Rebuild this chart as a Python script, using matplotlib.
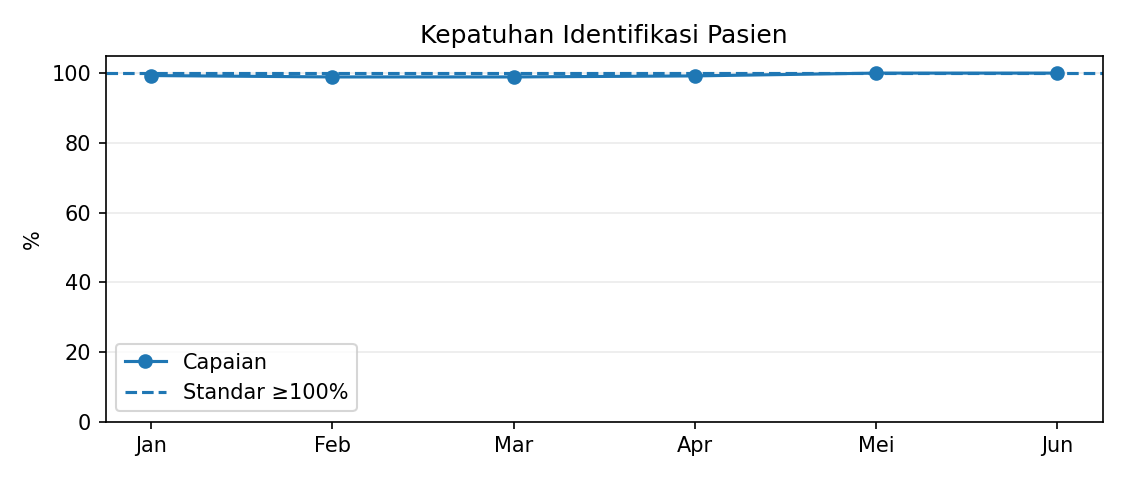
import matplotlib
matplotlib.use("Agg")
import matplotlib.pyplot as plt

months = ["Jan", "Feb", "Mar", "Apr", "Mei", "Jun"]
capaian = [99.3, 98.9, 98.9, 99.2, 100.0, 100.0]
standar = 100

fig, ax = plt.subplots(figsize=(7.5, 3.2), dpi=150)
ax.plot(months, capaian, marker="o", label="Capaian")
ax.axhline(standar, linestyle="--", label="Standar \u2265100%")
ax.set_ylim(0, 105)
ax.set_title("Kepatuhan Identifikasi Pasien")
ax.set_ylabel("%")
ax.grid(axis="y", alpha=0.25)
ax.legend(loc="lower left")
fig.subplots_adjust(left=0.094, right=0.980, top=0.884, bottom=0.1215)
fig.savefig("out.png")
